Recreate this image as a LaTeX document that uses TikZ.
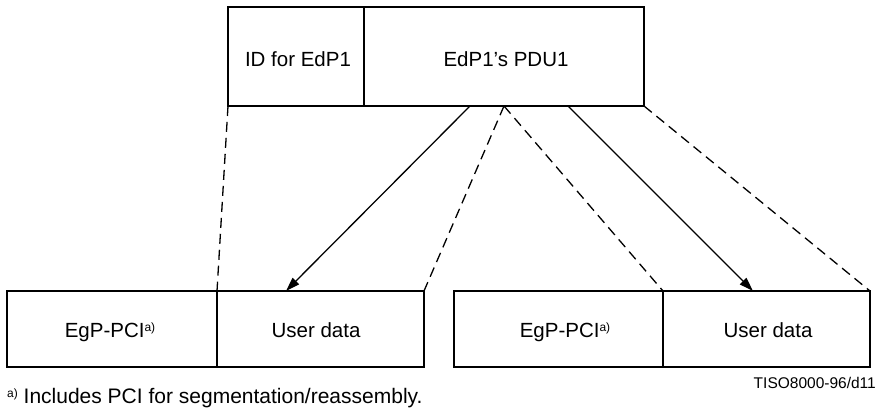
\documentclass[tikz,border=0pt]{standalone}
\usepackage{fontspec}
\setmainfont{Liberation Sans}
\usetikzlibrary{arrows.meta}
\newcommand{\fnmark}{\raisebox{5.5pt}{\fontsize{12}{12}\selectfont a)}}
\begin{document}
\begin{tikzpicture}[x=1pt,y=-1pt,
  cell/.style={draw,line width=1.3pt,inner sep=0pt,outer sep=0pt},
  lbl/.style={anchor=base,inner sep=0pt,font=\fontsize{20.5}{24}\selectfont},
  guide/.style={line width=1.3pt,dash pattern=on 10pt off 6pt},
  feed/.style={line width=1.3pt,-{Triangle[length=14pt,width=9pt]}}]
\useasboundingbox (0,0) rectangle (877,409);

% upper PDU
\node[cell,minimum width=136pt,minimum height=99pt] (id) at (296,56.5) {};
\node[cell,minimum width=280pt,minimum height=99pt] (pdu) at (504,56.5) {};
\node[lbl] (idtxt) at (298,67) {ID for EdP1};
\node[lbl] (pdutxt) at (506,67) {EdP1’s PDU1};

% lower segments
\node[cell,minimum width=210pt,minimum height=76pt] (pci1) at (112,329) {};
\node[cell,minimum width=207pt,minimum height=76pt] (ud1) at (320.5,329) {};
\node[cell,minimum width=209pt,minimum height=76pt] (pci2) at (558.5,329) {};
\node[cell,minimum width=207pt,minimum height=76pt] (ud2) at (766.5,329) {};
\node[lbl] (pci1txt) at (110,337) {EgP-PCI\fnmark};
\node[lbl] (ud1txt) at (316,337) {User data};
\node[lbl] (pci2txt) at (565,337) {EgP-PCI\fnmark};
\node[lbl] (ud2txt) at (768,337) {User data};

% mapping lines
\coordinate (s1) at (470,106);
\coordinate (s2) at (568,106);
\coordinate (t1) at (286,291);
\coordinate (t2) at (753,291);
\draw[guide] (id.south west) -- (ud1.north west);
\draw[guide] (pdu.south) -- (ud1.north east);
\draw[guide] (pdu.south) -- (ud2.north west);
\draw[guide] (pdu.south east) -- (ud2.north east);
\draw[feed] (s1) -- (t1);
\draw[feed] (s2) -- (t2);

% notes
\node[lbl,anchor=base west,font=\fontsize{21}{24}\selectfont] (note) at (7,403) {\fnmark\ Includes PCI for segmentation/reassembly.};
\node[lbl,anchor=base east,font=\fontsize{15.5}{18}\selectfont] (tag) at (876,388) {TISO8000-96/d11};
\end{tikzpicture}
\end{document}
